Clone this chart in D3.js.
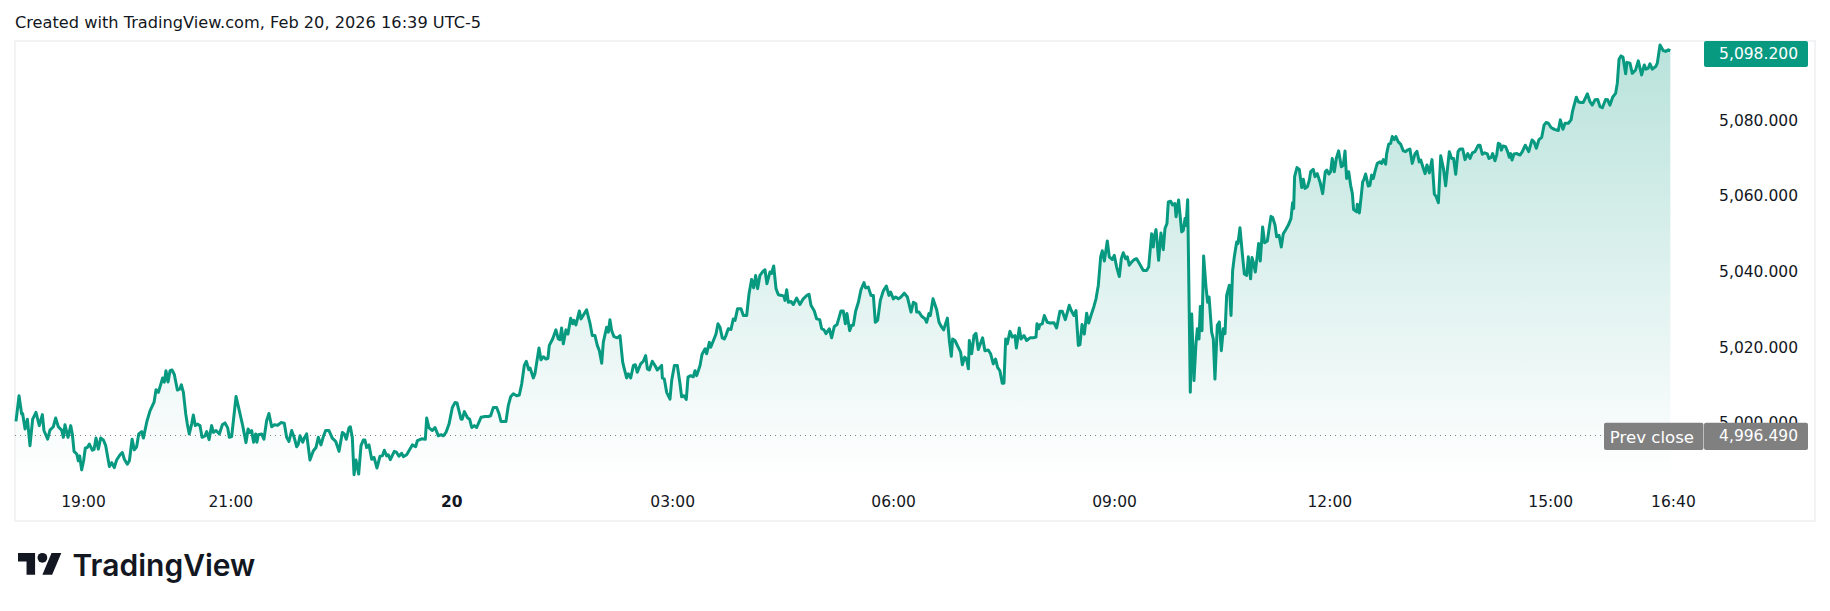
<!DOCTYPE html>
<html>
<head>
<meta charset="utf-8">
<script src="https://cdn.jsdelivr.net/npm/d3@7"></script>
<style>
  html, body { margin: 0; background: #fff; }
  text { font-family: "DejaVu Sans", sans-serif; font-size: 15.5px; fill: #131722; }
  .domain { display: none; }
</style>
</head>
<body>
<div id="chart"></div>
<script>
// minutes since the 18:00 session open
const minutes = [
  5.4,7.9,10,10.8,12.8,14.7,16.8,19,21.7,24.4,26.9,28.2,31.2,33.1,35.8,37.7,39.9,42.6,44,45.3,47.8,50,51.3,52.7,54.9,56.2,57.3,58.9,60.5,61.9,63.5,65.2,67.6,69,70.6,72.5,74.4,76.6,78.5,81.5,83.4,85.5,87.4,90.2,92,93.7,96.1,97.8,100,101.8,103.7,105.4,107.8,109.2,111.9,114.6,117.9,119.5,121.4,122.8,124.9,126.3,127.6,129.3,130.9,132.5,134.4,136.9,139,140.1,141.8,143.7,145,146.6,148.5,149.9,151.5,153.2,155.3,157,159.4,160.8,162.7,164.8,166.2,168.4,171.1,173.5,175.7,177.9,179.2,181.1,184.7,187.4,190.1,192.8,194.5,
  195.8,197.4,199,200.7,201.7,202.8,205.5,207.4,209.6,211.5,213.7,215.9,218.6,221.3,224,225.9,227.8,230,232.2,234.1,235.4,236.8,239,240.3,242.2,244.9,247.6,249.8,251.7,253.9,255.8,257.7,260.4,263.1,265.9,268.6,271.3,272.9,274.5,276.7,277.8,279.4,280.8,282.4,284.6,286.5,288.4,289.7,291.1,293,295.2,297.1,299.5,302,303.9,305.5,307.4,308.8,310.4,313.6,315.5,317.4,319.6,321,323.7,326.4,328.3,331,332.4,335.9,338.9,340,341.9,344.6,346.8,349.5,351.7,353.6,355.7,358.2,360.9,363.1,364.7,368,369,370.7,373.4,375,376.7,378.8,380.7,384.3,387.5,
  390.2,392.1,394.3,397,398.9,400.5,404.6,406.5,408.4,410.6,413.3,415.5,417.4,419.5,421.2,423.1,424.2,426.9,428.2,431.5,433.1,435,437.2,438.8,439.9,442.6,445.3,447.2,448.6,449.9,451.3,453.5,455.1,457.3,458.9,460,461.6,464.4,465.7,468.2,470.3,473,474.9,477.1,479,480.7,482.6,483.9,486.6,488,489.3,490.7,492.6,495.3,497.5,499.7,500.7,502.9,504.3,506.2,508.4,510,511.6,514.3,516.5,518.4,519.8,521.4,523.8,526,527.9,531.4,532,533.6,535.5,538.2,539.6,541.8,544.2,546.4,547.7,549.6,551.5,552.9,555.1,557.2,558.6,560,562.7,564.3,566.8,568.1,570.3,571.4,574.1,575.7,577.3,579,
  580.8,582.5,583.8,585.7,587.9,589.8,591.2,593.3,596.1,598,600.7,602.6,604.7,606.4,608,609.6,611.5,614.3,615.6,617.2,619.7,621,622.7,624.6,626.5,629.2,631.1,631.9,633.3,634.6,636.8,638.7,641.4,644.1,646.8,649.6,651.5,653.1,655.8,657.7,660.2,661.8,663.7,665.3,668,669.9,672.1,674.3,677.5,679.4,681.1,682.4,684.6,686.2,687.6,689.5,691.7,693.8,696.3,697.6,699.8,702,703.9,705.5,707.4,709.6,712,714.5,716.6,718,720.2,722.1,724.3,726.4,729.1,731.6,734.6,736.5,738.6,739.2,741.1,743.3,746,747.3,749.2,750.3,752.5,755.5,757.4,759.6,761.2,762.5,764.2,765.8,767.4,768.5,770.4,
  773.1,775,776.4,778.3,779.9,781.3,782.1,784,785.9,787.5,789.4,792.9,794.8,797.5,799.4,801.6,803.5,805.1,807,808.9,810.3,811.7,813,815.2,817.1,819.3,820.4,822.8,824.2,826.6,828.8,831.5,834.2,836.4,837.2,838.6,839.6,841.5,843.2,845.6,847.8,851,853.2,855.9,857.8,860.3,863.5,865.4,867.3,869,870.9,872.2,873.9,875.8,877.7,879.3,881.7,883.6,885.3,887.2,889.1,890.4,892.1,894.5,896.1,898.6,900.2,902.1,904.3,905.9,907.5,909.4,910.8,912.4,914.3,916.5,918.4,921.1,923.8,926.5,928.2,930.6,932,932.5,934.2,935.2,936.3,938.2,940.1,941.5,943.1,944.2,946.1,947.7,949.6,950.5,952.6,955.1,956.4,957.8,958.6,960,
  962.2,963.4,965.3,967,968.2,969.6,970.7,972.1,973.5,975.5,976.9,978.1,980.3,981.7,983.1,985.1,986.8,988.5,990.2,991.6,993,995.3,996.7,998.1,999.5,1001.5,1002.6,1004.3,1006.3,1008,1010,1011.4,1013.3,1014.5,1015.6,1017.3,1019,1020.1,1021.5,1023.5,1025.2,1027.5,1029.2,1030.6,1032,1034,1035.4,1037.4,1039.3,1041,1043.3,1045.3,1047.5,1048.9,1049.8,1050.6,1052.6,1054.6,1056.6,1058,1059.4,1061.4,1063.1,1064.2,1066.4,1067.9,1069.8,1072.1,1074.4,1076.6,1078,1079.7,1081.1,1082.4,1084.1,1085.7,1087.6,1089.8,1091.4,1092.8,1094.1,1095.8,1097.4,1098.8,1099.8,1102.3,1102.8,1104.5,1106.1,1107.2,1108.3,1109.6,1111.8,1113.1,1114.5,1115.9,1117.2,1119.1,1121.3,1122.6,1124,1125.9,1126.7,1128.4,1130,1131.3,1133,1134.3,1136.2,1138.1,1140.3,1142.2,1143.6,1145.7,1147.6,1149.8,1151.4,1153.3,
  1154.5,1156.6,1158,1159.6,1161.5,1163.7,1165.6,1167,1168.9,1170.8,1173,1174.8,1177.8,1179.7,1181.3,1183,1184.9,1186.5,1188.7,1190.6,1192.8,1194.7,1196.6,1198.7,1201.4,1202.8,1204.7,1206.6,1208.8,1210.1,1212,1213.1,1215,1216.4,1217.7,1219.1,1220.2,1221.5,1223.7,1225.3,1226.7,1227.8,1228.9,1230.5,1232.9,1235.4,1237.3,1239.7,1242.5,1245.2,1246.8,1248.7,1250.9,1253.1,1255,1256.6,1258.5,1260.7,1263.4,1266.6,1268.3,1270.4,1272.1,1274.8,1277,1278.3,1281.3,1282.9,1284.8,1287,1290.3,1292.4,1294.3,1296.5,1298.7,1300.6,1302.5,1305.2,1306.8,1308.7,1310.9,1313.3,1314.7,1316.1,1317.7,1319.3,1321.5,1322.6,1325,1326.9,1329.6,1331.8,1334.5,1336.7,1338.1,1340,1341.3,1343.2,1346,1347.3,1349.5,1352.2,1354.1,1356.3,1357.9
];

const prices = [
  5000.2,5007,5002.2,5002.3,4998.2,5000.8,4993.8,5000.8,5002.6,4999.1,5002,4997.8,4995.5,4997.9,4998.8,5001.1,4998.8,4997.9,4996,4999.3,4996,4999.1,4996.9,4992.3,4991.6,4989.8,4991.1,4987.4,4989.8,4993.2,4993.3,4994.2,4992.6,4992.8,4995.8,4992.9,4995.8,4995.3,4993.8,4988.3,4989.3,4988,4990,4991.4,4992,4990.2,4988.9,4989.8,4995.5,4992.7,4993.5,4996.9,4997.5,4995.8,5000,5003,5005.3,5008.6,5007.9,5009.4,5011.7,5010.6,5013.6,5010.6,5013.6,5013.8,5012.6,5008.5,5008.8,5009.9,5007.9,5002.2,4999.5,4996.9,4999.5,5001.9,4999.1,4999.5,4999.1,4996,4996.4,4997.5,4995.4,4999.1,4997.3,4997.8,4996.9,4999.3,4999.8,4998.5,4996,4996.2,5006.8,5003,4999.1,4994.6,4998.2,
  4997.3,4997.8,4994.7,4996.9,4994.7,4996.7,4996.9,4995.5,5000.4,5002.3,4998.8,4999.3,4999.2,4999.9,4999.7,4996,4994.9,4997.8,4995.8,4993.5,4994.2,4996.4,4994.7,4995.8,4996.9,4990,4992.4,4993.3,4996,4994,4996.2,4997.8,4997.8,4995.8,4994.9,4992.3,4997.3,4996.9,4995.5,4998.5,4998.8,4996,4986.1,4990,4986.3,4993.8,4995.3,4995.3,4993.3,4994,4990.2,4990.7,4987.9,4991,4991.1,4992.6,4991.1,4991.4,4990.1,4992.3,4992,4991,4991.8,4990.9,4991.4,4992.9,4994,4993.5,4995.1,4995.6,4995.5,5001.1,4998.5,4997.8,4998.6,4996.4,4996.7,4996.4,4997.3,4999.5,5003.9,5005.2,5005.1,5000.8,5000.8,5002.8,5001.1,5000.8,4998.6,4999.1,4998.6,5001.3,5001.5,
  5001.5,5001.7,5003.9,5003.9,5002.3,5000.2,5000.2,5004.4,5006.7,5007.5,5007,5007.2,5010.1,5015,5016.1,5013.9,5014.3,5011.7,5012.8,5019.6,5016.5,5017.3,5016.7,5016.9,5020.3,5022,5024.4,5022,5021.8,5024.9,5020.7,5024.4,5023.3,5027.5,5026,5026.9,5025.7,5029.4,5027.3,5028.6,5029.7,5026.2,5022.9,5022.9,5020.3,5018.9,5015.6,5021.1,5025.1,5023.8,5027.1,5024.2,5022.6,5022.3,5022.9,5015.9,5014.5,5011.7,5012.8,5011.7,5015,5015.2,5013.2,5015.4,5016.1,5017.6,5014.1,5013.8,5016.1,5015,5013.8,5015,5011.7,5011.4,5007.9,5006.1,5011,5015,5015,5010.1,5006.7,5007,5006,5011.9,5012.3,5012,5013.6,5012.3,5015,5017.9,5019.4,5018.1,5021.1,5019.8,5022,5023.3,5026,5025.1,
  5022.3,5022,5022.9,5024.7,5024.5,5027.3,5026.9,5030,5030,5028.2,5028.2,5033.9,5037.7,5035.5,5038.8,5035.3,5038.8,5040,5040.3,5036.6,5039.7,5039.3,5041.3,5035.3,5033.7,5033.5,5033.3,5032.2,5035,5031.7,5031.9,5031.1,5032.8,5031.1,5032.6,5033.5,5033.8,5030.9,5029.4,5027.3,5027.1,5024.7,5024.4,5023.4,5024.7,5022.3,5025.3,5025.8,5029.4,5029.4,5026,5028.7,5024.2,5025.6,5025.6,5029.4,5031.7,5035,5036.9,5035.5,5035.7,5033.5,5033.5,5026.4,5026.9,5032.2,5034.7,5036,5033.5,5034.4,5032.6,5033.1,5032.6,5033.1,5034.1,5033.1,5029.1,5031.7,5031.3,5029.1,5029.1,5028,5027.3,5026.4,5028.7,5028.2,5032.6,5029.7,5026.4,5025.1,5024.4,5025.8,5027.5,5021.6,5017.4,5022,5021.6,
  5019.8,5018.5,5015.2,5017.2,5016.7,5014.1,5021.6,5018.1,5022.9,5023.5,5019.2,5022.3,5018.9,5019.1,5018.1,5015.4,5016.7,5014.5,5013.6,5010.3,5010.3,5022,5020.7,5024,5022.5,5022.9,5019.6,5024.9,5022,5022.9,5021.6,5022.3,5022.3,5022.5,5026,5024.7,5025.8,5026,5028.2,5026.4,5026.2,5026.3,5024.9,5029.3,5029.3,5027.1,5030.9,5029.3,5028.2,5029.5,5020.3,5020.5,5025.8,5023.3,5028.8,5026.2,5028.7,5030.6,5032.6,5036.2,5043.7,5045.3,5042.6,5047.9,5043.7,5043,5044.1,5041,5038.5,5043.2,5044.8,5043.2,5043.7,5041.5,5042.3,5043,5043.2,5041.7,5040.1,5040.1,5041,5049.8,5046.3,5048.5,5050.9,5047.2,5042.8,5050,5045.6,5051.2,5052.5,5058.2,5058.4,5057.4,5057.8,5054.3,5058.7,5050.3,5050.7,5053.8,5052,5058.8,
  5007.9,5028.6,5011,5020.7,5024.7,5022,5030.6,5024.2,5043.9,5035.7,5031.7,5033.1,5023.8,5022,5011.4,5025.6,5026.5,5018.9,5024.7,5023.4,5033.5,5036.2,5028.2,5040.1,5043.7,5047.6,5047.2,5051.4,5044.5,5039.2,5038.8,5043.7,5037.9,5043.5,5042.3,5039.7,5044.1,5047.2,5042.6,5051.6,5047.4,5047.9,5051.6,5054.4,5054.1,5052.1,5049,5049.4,5046.3,5049.8,5051,5052.1,5053.8,5058,5056.5,5064.9,5067.3,5066.8,5062,5064.2,5061.8,5062.2,5064,5066.2,5066.8,5064.9,5065.7,5063.5,5060.4,5066.2,5066.6,5065.6,5066.2,5069.7,5066.2,5069.7,5071.7,5067.5,5067.9,5071.7,5064.4,5066.2,5062.6,5060.4,5056.2,5055.6,5057.6,5055.3,5060,5063.5,5064.2,5065.6,5062.4,5062.6,5065.3,5064.4,5066.2,5068.4,5068.8,5068.4,5069.4,5068.2,5070.9,5073.5,5073.7,5075.5,5074.7,5075.5,5074.1,5073.5,5071.7,5071.5,5071.9,5072.2,5068.4,5070.9,5071.6,5068.8,
  5069.3,5067.1,5065.7,5068,5065.9,5069.4,5060.3,5059.7,5058,5070.4,5067.1,5062.5,5071.5,5069.7,5069.7,5065.5,5071.5,5072.2,5072.2,5069.4,5071,5069.7,5071.2,5071.5,5073.2,5073.2,5070.8,5071.2,5070.9,5069.7,5070,5071,5069.1,5070.6,5073.7,5073.5,5071.9,5073,5072.8,5071.5,5070,5071,5069.3,5070.9,5071,5070.6,5071.5,5073.2,5071.5,5074.6,5074.1,5072.4,5074.7,5075.3,5078.5,5079.2,5079,5077.9,5077.4,5077.1,5079.9,5077.4,5079,5079,5079.9,5082.3,5085.9,5084.7,5084.5,5084.5,5086.8,5084.7,5083.8,5085.2,5085.3,5083.4,5083.1,5085.3,5085.2,5083.8,5085.9,5086.9,5089.6,5095.9,5096.8,5096.5,5092.1,5095.1,5094.9,5092.2,5093.1,5095.5,5091.8,5094.4,5093.3,5093.6,5094.7,5093.3,5094,5094.9,5099.7,5098.2,5098,5098.4,5098.2
];

const timeTicks = [60, 180, 360, 540, 720, 900, 1080, 1260, 1360];
const timeLabels = ["19:00", "21:00", "20", "03:00", "06:00", "09:00", "12:00", "15:00", "16:40"];
const priceTicks = [5000, 5020, 5040, 5060, 5080];
const lastPrice = 5098.2;
const prevClose = 4996.49;

const attrs = {
  width: 1830,
  height: 611,
  lineColor: "#089981",
  paneBottom: 478,
};

const data = minutes.map((m, i) => ({ m, price: prices[i] }));
const fmt = d3.format(",.3f");

// axis isn't linear in time: a few bars are missing between 10:00 and 12:00
const x = d3.scaleLinear()
  .domain([0, 960, 1080, 1360])
  .range([9.35, 1187.7, 1329.3, 1672.9]);

const y = d3.scaleLinear()
  .domain([5080, 5000])
  .range([119.5, 422.2]);

const svg = d3.select("#chart").append("svg")
  .attr("width", attrs.width)
  .attr("height", attrs.height)
  .style("display", "block");

const grad = svg.append("defs").append("linearGradient")
  .attr("id", "area-fill")
  .attr("gradientUnits", "userSpaceOnUse")
  .attr("x1", 0).attr("x2", 0)
  .attr("y1", y(lastPrice)).attr("y2", attrs.paneBottom);
grad.append("stop").attr("offset", 0).attr("stop-color", attrs.lineColor).attr("stop-opacity", 0.28);
grad.append("stop").attr("offset", 1).attr("stop-color", attrs.lineColor).attr("stop-opacity", 0);

svg.append("text")
  .attr("class", "title")
  .attr("x", 15)
  .attr("y", 28)
  .style("font-size", "16.2px")
  .text("Created with TradingView.com, Feb 20, 2026 16:39 UTC-5");

svg.append("rect")
  .attr("x", 15).attr("y", 41)
  .attr("width", 1800).attr("height", 480)
  .attr("fill", "none")
  .attr("stroke", "#f2f3f5")
  .attr("stroke-width", 2);

const area = d3.area()
  .x((d) => x(d.m))
  .y0(attrs.paneBottom)
  .y1((d) => y(d.price));

const line = d3.line()
  .x((d) => x(d.m))
  .y((d) => y(d.price));

svg.append("path")
  .attr("d", area(data))
  .attr("fill", "url(#area-fill)");

svg.append("line")
  .attr("x1", 15).attr("x2", 1604)
  .attr("y1", y(prevClose)).attr("y2", y(prevClose))
  .attr("stroke", "#808080")
  .attr("stroke-width", 1)
  .attr("stroke-dasharray", "1 4");

svg.append("path")
  .attr("d", line(data))
  .attr("fill", "none")
  .attr("stroke", attrs.lineColor)
  .attr("stroke-width", 3)
  .attr("stroke-linejoin", "round");

const yAxis = svg.append("g")
  .attr("class", "y-axis")
  .attr("transform", "translate(1798,0.6)")
  .call(d3.axisRight(y).tickValues(priceTicks).tickFormat(fmt).tickSize(0).tickPadding(0));
yAxis.selectAll("text").attr("text-anchor", "end");

const xAxis = svg.append("g")
  .attr("class", "x-axis")
  .attr("transform", "translate(0,491.5)")
  .call(d3.axisBottom(x).tickValues(timeTicks)
    .tickFormat((d, i) => timeLabels[i]).tickSize(0).tickPadding(4));
xAxis.selectAll("text")
  .style("font-weight", (d) => (d === 360 ? "bold" : null));

function badge(bx, by, w, h, fill, label, textRight, textY, size) {
  svg.append("rect")
    .attr("x", bx).attr("y", by)
    .attr("width", w).attr("height", h)
    .attr("rx", 2)
    .attr("fill", fill);
  svg.append("text")
    .attr("x", textRight).attr("y", textY)
    .attr("text-anchor", "end")
    .attr("dy", "0.36em")
    .style("fill", "#fff")
    .style("font-size", size + "px")
    .text(label);
}

badge(1704, 41, 104, 26, attrs.lineColor, fmt(lastPrice), 1798, 53, 15.5);
badge(1604, 422.7, 99.5, 27.3, "#808080", "Prev close", 1694, 437, 16.6);
badge(1704, 422.7, 104, 27.3, "#808080", fmt(prevClose), 1798, 435.5, 15.5);

// TradingView logo
const logo = svg.append("g")
  .attr("transform", "translate(18,548) scale(1.22)")
  .attr("fill", "#131722");
logo.append("path").attr("d", "M14 22H7V11H0V4h14v18zM28 22h-8l7.5-18h8L28 22z");
logo.append("circle").attr("cx", 20).attr("cy", 8).attr("r", 4);

svg.append("text")
  .attr("x", 72.5)
  .attr("y", 576)
  .style("font-family", "Inter, sans-serif")
  .style("font-size", "30px")
  .style("font-weight", 600)
  .text("TradingView");
</script>
</body>
</html>
